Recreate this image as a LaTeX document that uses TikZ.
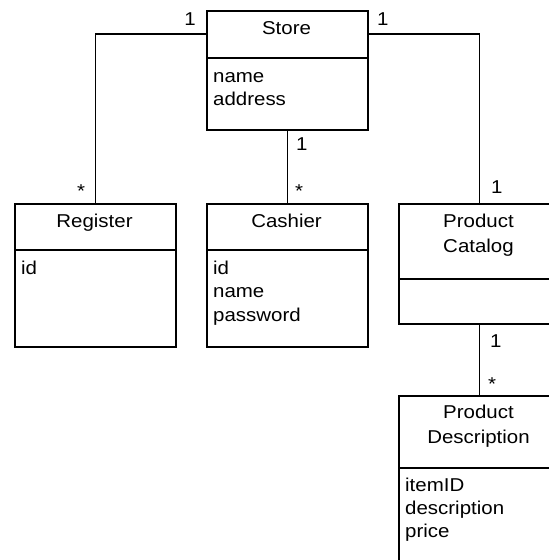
\documentclass[tikz,border=0pt]{standalone}
\usepackage{fontspec}
\setmainfont{Liberation Sans}[FakeStretch=1.1]
\begin{document}
\begin{tikzpicture}[x=1pt,y=-1pt,
  classbox/.style={draw=black, line width=2.2pt, minimum width=161pt, inner sep=0pt, anchor=north west},
  divider/.style={line width=2pt},
  conn/.style={line width=1.1pt},
  lbl/.style={inner sep=0pt, font=\fontsize{18.6}{23.5}\selectfont},
  title/.style={lbl, anchor=base},
  attr/.style={lbl, anchor=base west},
  mult/.style={lbl}]
  % canvas
  \fill[white] (0,0) rectangle (549,560);
  \useasboundingbox (0,0) rectangle (549,560);
  \clip (0,0) rectangle (549,560);

  % class boxes
  \node[classbox, minimum height=119pt] (st) at (206,10) {};
  \node[classbox, minimum height=143pt] (rg) at (14,203) {};
  \node[classbox, minimum height=143pt] (ca) at (206,203) {};
  \node[classbox, minimum height=120pt] (pc) at (398,203) {};
  \node[classbox, minimum height=205pt] (pd) at (398,395) {};

  % compartment dividers
  \draw[divider] (st.north west) ++(0,48) -- ++(161,0);
  \draw[divider] (rg.north west) ++(0,47) -- ++(161,0);
  \draw[divider] (ca.north west) ++(0,47) -- ++(161,0);
  \draw[divider] (pc.north west) ++(0,76) -- ++(161,0);
  \draw[divider] (pd.north west) ++(0,73) -- ++(161,0);

  % Store
  \node[title] (st-t) at (286.5,34) {Store};
  \node[attr] (st-a1) at (213,82) {name};
  \node[attr] (st-a2) at (213,105.5) {address};

  % Register
  \node[title] (rg-t) at (94.5,227) {Register};
  \node[attr] (rg-a1) at (21,274) {id};

  % Cashier
  \node[title] (ca-t) at (286.5,227) {Cashier};
  \node[attr] (ca-a1) at (213,274) {id};
  \node[attr] (ca-a2) at (213,297.5) {name};
  \node[attr] (ca-a3) at (213,321) {password};

  % Product Catalog
  \node[title] (pc-t1) at (478.5,227) {Product};
  \node[title] (pc-t2) at (478.5,252) {Catalog};

  % Product Description
  \node[title] (pd-t1) at (478.5,418) {Product};
  \node[title] (pd-t2) at (478.5,443) {Description};
  \node[attr] (pd-a1) at (405,491) {itemID};
  \node[attr] (pd-a2) at (405,514) {description};
  \node[attr] (pd-a3) at (405,537) {price};

  % associations
  \coordinate (stL) at (206,34);
  \coordinate (stR) at (367,34);
  \draw[conn] (stL) -| (rg.north);
  \draw[conn] (stR) -| (pc.north);
  \draw[conn] (st.south) -- (ca.north);
  \draw[conn] (pc.south) -- (pd.north);

  % multiplicities
  \node[mult, anchor=base east] (m1) at (196,25) {1};
  \node[mult, anchor=base west] (m2) at (377,25) {1};
  \node[mult, anchor=base] (m3) at (81,197) {*};
  \node[mult, anchor=base west] (m4) at (296,150) {1};
  \node[mult, anchor=base] (m5) at (299,197) {*};
  \node[mult, anchor=base west] (m6) at (491,193) {1};
  \node[mult, anchor=base west] (m7) at (490,347) {1};
  \node[mult, anchor=base] (m8) at (492,390) {*};
\end{tikzpicture}
\end{document}
